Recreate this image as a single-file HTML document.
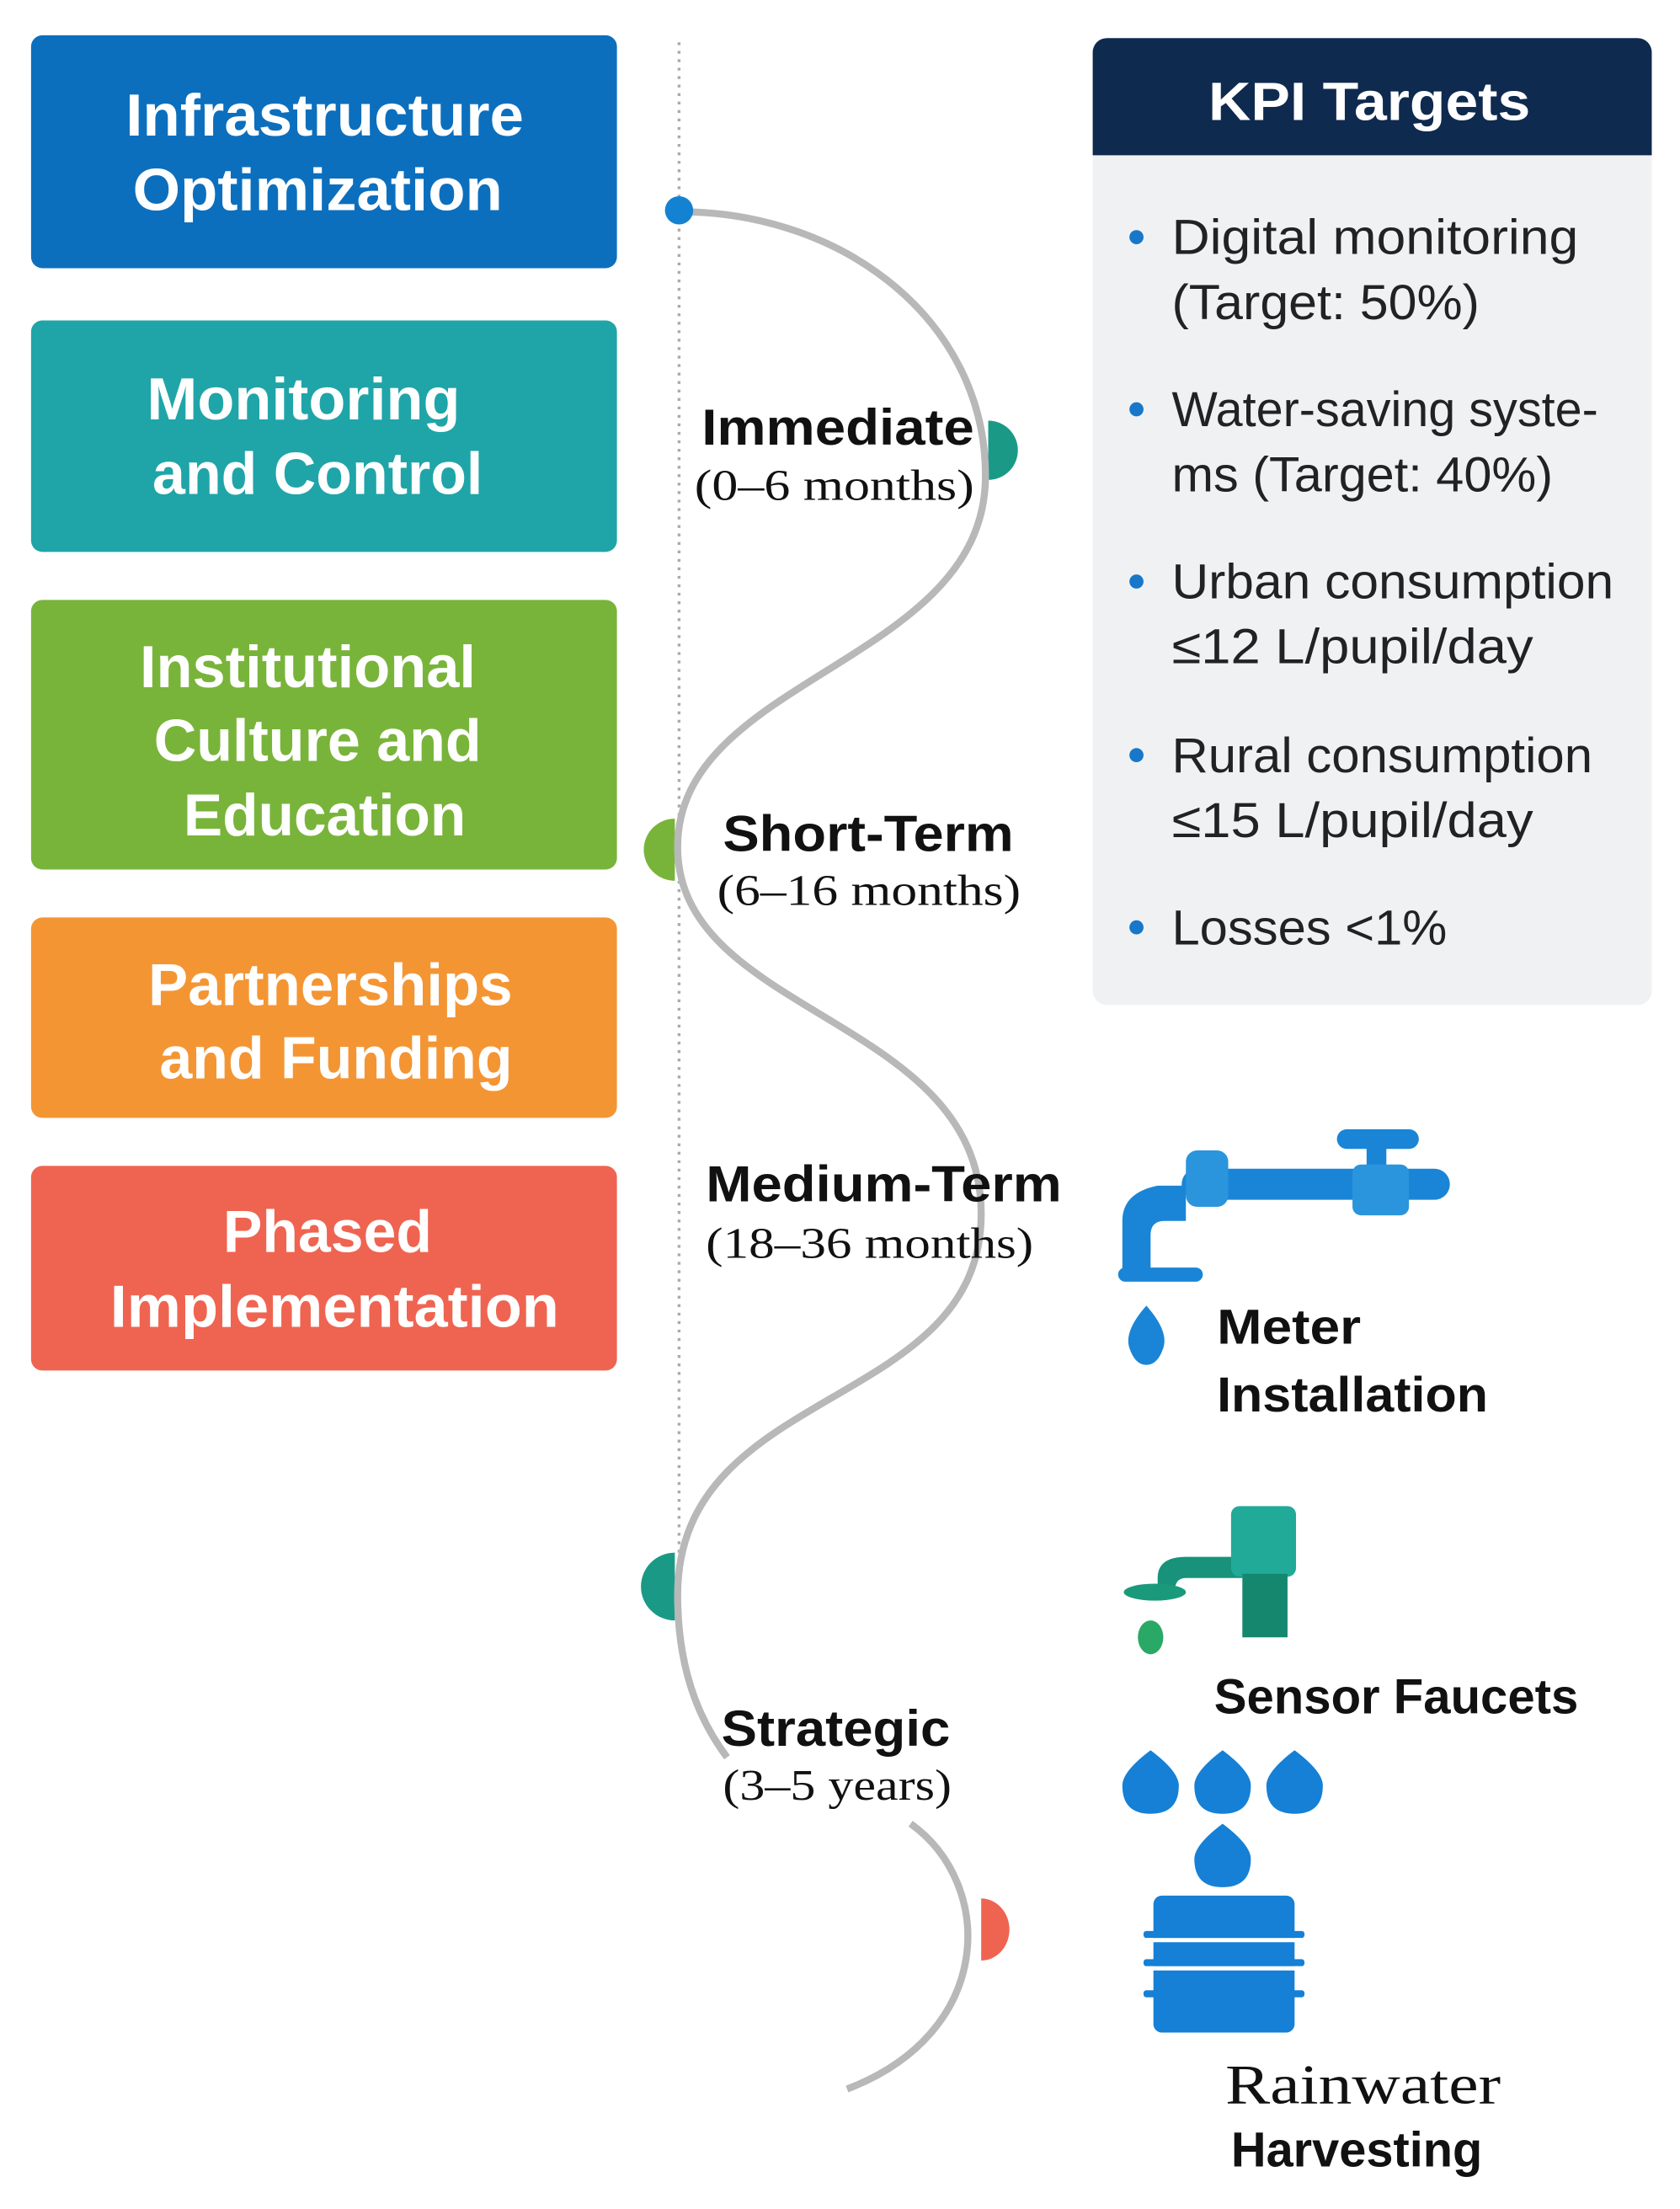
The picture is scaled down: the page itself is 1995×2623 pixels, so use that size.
<!DOCTYPE html>
<html><head><meta charset="utf-8"><style>html,body{margin:0;padding:0;background:#fff}svg{display:block}</style></head>
<body>
<svg width="1995" height="2623" viewBox="0 0 1190 1565" preserveAspectRatio="none" xmlns="http://www.w3.org/2000/svg">
<rect width="1190" height="1565" fill="#fff"/>
<g font-family="Liberation Sans, sans-serif" font-weight="bold" fill="#fff" text-anchor="middle" font-size="42">
<rect x="22" y="25" width="415" height="165" rx="8" fill="#0c6fbe"/>
<text x="230" y="96" textLength="282" lengthAdjust="spacingAndGlyphs">Infrastructure</text><text x="225" y="149" textLength="262" lengthAdjust="spacingAndGlyphs">Optimization</text>
<rect x="22" y="227" width="415" height="164" rx="8" fill="#1fa5a8"/>
<text x="215" y="297" textLength="222" lengthAdjust="spacingAndGlyphs">Monitoring</text><text x="225" y="350" textLength="234" lengthAdjust="spacingAndGlyphs">and Control</text>
<rect x="22" y="425" width="415" height="191" rx="8" fill="#78b43a"/>
<text x="218" y="487" textLength="238" lengthAdjust="spacingAndGlyphs">Institutional</text><text x="225" y="539" textLength="232" lengthAdjust="spacingAndGlyphs">Culture and</text><text x="230" y="592" textLength="200" lengthAdjust="spacingAndGlyphs">Education</text>
<rect x="22" y="650" width="415" height="142" rx="8" fill="#f49534"/>
<text x="234" y="712" textLength="258" lengthAdjust="spacingAndGlyphs">Partnerships</text><text x="238" y="764" textLength="250" lengthAdjust="spacingAndGlyphs">and Funding</text>
<rect x="22" y="826" width="415" height="145" rx="8" fill="#ef6451"/>
<text x="232" y="887" textLength="148" lengthAdjust="spacingAndGlyphs">Phased</text><text x="237" y="940" textLength="318" lengthAdjust="spacingAndGlyphs">Implementation</text>
</g>
<line x1="481" y1="30" x2="481" y2="1100" stroke="#aaa" stroke-width="2" stroke-dasharray="2,4"/>
<path d="M700,298 a20,20 0 0 1 0,42 z" fill="#1a9a86"/>
<path d="M478,580 a20,20 0 0 0 0,44 z" fill="#78b43a"/>
<path d="M478,1100 a22,22 0 0 0 0,48 z" fill="#1a9a86"/>
<path d="M695,1345 a20,22 0 0 1 0,44 z" fill="#ef6451"/>
<path d="M481,150 C600,150 700,230 698,340 C695,470 480,480 480,600 C480,720 695,720 695,860 C695,1000 480,980 480,1130 C480,1190 500,1225 515,1245" fill="none" stroke="#b8b8b8" stroke-width="5"/>
<path d="M645,1292 C705,1335 705,1440 600,1480" fill="none" stroke="#b8b8b8" stroke-width="5"/>
<circle cx="481" cy="149" r="10" fill="#1482d2"/>
<g fill="#111">
<g font-family="Liberation Sans, sans-serif" font-weight="bold" font-size="36">
<text x="497" y="315" textLength="193" lengthAdjust="spacingAndGlyphs">Immediate</text><text x="512" y="603" textLength="206" lengthAdjust="spacingAndGlyphs">Short-Term</text><text x="500" y="851" textLength="252" lengthAdjust="spacingAndGlyphs">Medium-Term</text><text x="511" y="1237" textLength="162" lengthAdjust="spacingAndGlyphs">Strategic</text>
</g>
<g font-family="Liberation Serif, serif" font-size="31">
<text x="492" y="354" textLength="198" lengthAdjust="spacingAndGlyphs">(0–6 months)</text><text x="508" y="641" textLength="215" lengthAdjust="spacingAndGlyphs">(6–16 months)</text><text x="500" y="891" textLength="232" lengthAdjust="spacingAndGlyphs">(18–36 months)</text><text x="512" y="1275" textLength="162" lengthAdjust="spacingAndGlyphs">(3–5 years)</text>
</g>
</g>
<rect x="774" y="27" width="396" height="685" rx="10" fill="#f0f1f3"/>
<path d="M784,27 h376 a10,10 0 0 1 10,10 v73 h-396 v-73 a10,10 0 0 1 10,-10z" fill="#0f2a4f"/>
<text x="970" y="85" font-family="Liberation Sans, sans-serif" font-weight="bold" font-size="38" fill="#fff" text-anchor="middle" textLength="228" lengthAdjust="spacingAndGlyphs">KPI Targets</text>
<g font-family="Liberation Sans, sans-serif" font-size="35" fill="#222">
<g fill="#1877c8"><circle cx="805" cy="168" r="5"/><circle cx="805" cy="290" r="5"/><circle cx="805" cy="412" r="5"/><circle cx="805" cy="535" r="5"/><circle cx="805" cy="657" r="5"/></g>
<text x="830" y="180" textLength="288" lengthAdjust="spacingAndGlyphs">Digital monitoring</text><text x="830" y="226" textLength="218" lengthAdjust="spacingAndGlyphs">(Target: 50%)</text>
<text x="830" y="302" textLength="302" lengthAdjust="spacingAndGlyphs">Water-saving syste-</text><text x="830" y="348" textLength="270" lengthAdjust="spacingAndGlyphs">ms (Target: 40%)</text>
<text x="830" y="424" textLength="313" lengthAdjust="spacingAndGlyphs">Urban consumption</text><text x="830" y="470" textLength="256" lengthAdjust="spacingAndGlyphs">≤12 L/pupil/day</text>
<text x="830" y="547" textLength="298" lengthAdjust="spacingAndGlyphs">Rural consumption</text><text x="830" y="593" textLength="256" lengthAdjust="spacingAndGlyphs">≤15 L/pupil/day</text>
<text x="830" y="669" textLength="195" lengthAdjust="spacingAndGlyphs">Losses &lt;1%</text>
</g>
<g fill="#1a85d6">
<rect x="837" y="828" width="190" height="22" rx="11"/>
<path d="M795,905 v-40 q0,-20 25,-25 h20 v25 h-15 q-10,0 -10,10 v30z"/>
<rect x="792" y="898" width="60" height="10" rx="5"/>
<rect x="840" y="815" width="30" height="40" rx="8" fill="#2a95dc"/>
<rect x="947" y="800" width="58" height="14" rx="7"/>
<rect x="968" y="810" width="14" height="20"/>
<rect x="958" y="825" width="40" height="36" rx="6" fill="#2a95dc"/>
<path d="M812,925 q-16,18 -12,30 q4,12 12,12 q8,0 12,-12 q4,-12 -12,-30z"/>
</g>
<g font-family="Liberation Sans, sans-serif" font-weight="bold" font-size="35" fill="#111">
<text x="862" y="952" textLength="102" lengthAdjust="spacingAndGlyphs">Meter</text><text x="862" y="1000" textLength="192" lengthAdjust="spacingAndGlyphs">Installation</text>
<text x="860" y="1214" textLength="258" lengthAdjust="spacingAndGlyphs">Sensor Faucets</text>
<text x="872" y="1535" textLength="178" lengthAdjust="spacingAndGlyphs">Harvesting</text>
</g>
<text x="868" y="1490" font-family="Liberation Serif, serif" font-size="40" fill="#111" textLength="195" lengthAdjust="spacingAndGlyphs">Rainwater</text>
<g>
<path d="M820,1128 v-10 q0,-15 20,-15 h40 v15 h-40 q-8,0 -8,10z" fill="#18927a"/>
<ellipse cx="818" cy="1128" rx="22" ry="6" fill="#1a9a7a"/>
<rect x="872" y="1067" width="46" height="50" rx="6" fill="#22aa98"/>
<rect x="880" y="1115" width="32" height="45" fill="#15876f"/>
<ellipse cx="815" cy="1160" rx="9" ry="12" fill="#2aa866"/>
</g>
<g fill="#1580d6">
<path d="M815,1240 q-20,15 -20,25 q0,20 20,20 q20,0 20,-20 q0,-10 -20,-25z"/>
<path d="M866,1240 q-20,15 -20,25 q0,20 20,20 q20,0 20,-20 q0,-10 -20,-25z"/>
<path d="M917,1240 q-20,15 -20,25 q0,20 20,20 q20,0 20,-20 q0,-10 -20,-25z"/>
<path d="M866,1292 q-20,15 -20,25 q0,20 20,20 q20,0 20,-20 q0,-10 -20,-25z"/>
<rect x="817" y="1343" width="100" height="97" rx="6"/>
<rect x="810" y="1368" width="114" height="5" rx="2"/>
<rect x="810" y="1388" width="114" height="5" rx="2"/>
<rect x="810" y="1410" width="114" height="5" rx="2"/>
</g>
<g fill="#fff"><rect x="812" y="1373" width="110" height="3"/><rect x="812" y="1393" width="110" height="3"/></g>
</svg>
</body></html>
